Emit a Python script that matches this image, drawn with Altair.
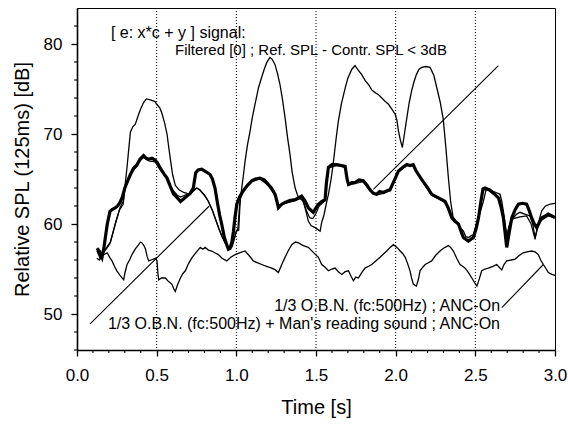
import altair as alt
import pandas as pd

FONT = "Liberation Sans"

# ---- series ----
peak_t = [0.125, 0.145, 0.17, 0.21, 0.24, 0.27, 0.29, 0.30, 0.315, 0.335, 0.35, 0.366, 0.387, 0.40, 0.418, 0.435, 0.46, 0.49, 0.50, 0.52, 0.533, 0.55, 0.565, 0.576, 0.586, 0.60, 0.617, 0.64, 0.67, 0.71, 0.75, 0.77, 0.80, 0.825, 0.85, 0.87, 0.89, 0.91, 0.93, 0.945, 0.96, 0.98, 1.0, 1.01, 1.02, 1.034, 1.045, 1.055, 1.07, 1.086, 1.10, 1.117, 1.14, 1.159, 1.175, 1.19, 1.211, 1.225, 1.243, 1.26, 1.274, 1.29, 1.306, 1.32, 1.337, 1.35, 1.369, 1.39, 1.41, 1.421, 1.44, 1.452, 1.47, 1.494, 1.51, 1.526, 1.536, 1.55, 1.565, 1.578, 1.595, 1.61, 1.625, 1.64, 1.66, 1.683, 1.70, 1.725, 1.745, 1.765, 1.787, 1.81, 1.829, 1.85, 1.871, 1.89, 1.913, 1.935, 1.955, 1.975, 1.997, 2.008, 2.018, 2.03, 2.042, 2.055, 2.07, 2.085, 2.10, 2.115, 2.13, 2.147, 2.164, 2.19, 2.216, 2.24, 2.26, 2.28, 2.299, 2.315, 2.33, 2.345, 2.36, 2.38, 2.394, 2.41, 2.425, 2.44, 2.457, 2.475, 2.488, 2.505, 2.52, 2.535, 2.55, 2.57, 2.585, 2.60, 2.63, 2.655, 2.666, 2.676, 2.687, 2.697, 2.71, 2.725, 2.739, 2.76, 2.78, 2.81, 2.843, 2.86, 2.875, 2.89, 2.906, 2.93, 2.958, 2.98, 3.0]
peak_v = [57.2, 56.3, 57.0, 58.0, 60.0, 61.8, 62.5, 64.0, 66.5, 70.2, 70.8, 71.1, 72.2, 72.8, 73.5, 73.9, 73.8, 73.6, 73.3, 72.9, 72.3, 71.2, 70.0, 68.5, 67.2, 65.5, 64.3, 63.8, 63.5, 63.3, 64.0, 63.8, 63.2, 62.5, 61.5, 60.5, 59.5, 58.6, 57.9, 57.4, 57.2, 58.0, 59.2, 59.5, 62.0, 64.0, 65.5, 67.0, 68.8, 70.3, 71.8, 73.3, 75.2, 76.3, 77.2, 77.9, 78.5, 78.3, 77.7, 76.6, 75.5, 73.8, 71.8, 69.8, 67.7, 65.8, 64.0, 62.9, 62.7, 62.5, 61.2, 60.3, 59.8, 59.6, 59.4, 59.2, 60.2, 61.0, 62.3, 63.3, 65.0, 67.0, 69.3, 71.4, 73.4, 75.1, 76.2, 77.2, 77.6, 77.1, 76.6, 75.9, 75.5, 74.9, 74.6, 74.4, 74.0, 73.6, 73.3, 72.8, 72.2, 71.5, 70.3, 69.3, 68.5, 70.0, 71.8, 73.5, 74.8, 75.8, 76.6, 77.2, 77.4, 77.5, 77.4, 76.5, 75.0, 73.5, 71.6, 68.5, 65.3, 62.5, 60.8, 60.3, 60.0, 59.5, 59.2, 58.6, 58.5, 58.7, 58.8, 59.8, 60.7, 61.6, 62.5, 64.0, 63.9, 63.7, 63.5, 63.3, 62.5, 61.4, 60.0, 58.8, 59.6, 60.5, 60.7, 61.1, 61.3, 61.1, 60.9, 60.0, 58.5, 59.5, 60.3, 60.6, 60.9, 60.8, 60.7]

thick_t = [0.125, 0.14, 0.157, 0.17, 0.19, 0.207, 0.22, 0.24, 0.255, 0.27, 0.285, 0.30, 0.318, 0.335, 0.355, 0.377, 0.395, 0.418, 0.435, 0.45, 0.47, 0.49, 0.505, 0.523, 0.545, 0.565, 0.585, 0.607, 0.63, 0.65, 0.67, 0.69, 0.71, 0.73, 0.745, 0.76, 0.783, 0.81, 0.835, 0.85, 0.866, 0.88, 0.895, 0.908, 0.925, 0.94, 0.95, 0.96, 0.972, 0.982, 0.992, 1.003, 1.02, 1.044, 1.07, 1.097, 1.12, 1.148, 1.175, 1.20, 1.22, 1.243, 1.255, 1.264, 1.285, 1.306, 1.335, 1.369, 1.39, 1.41, 1.43, 1.452, 1.47, 1.483, 1.50, 1.515, 1.535, 1.557, 1.565, 1.578, 1.60, 1.63, 1.66, 1.683, 1.695, 1.704, 1.725, 1.745, 1.77, 1.797, 1.82, 1.839, 1.86, 1.88, 1.90, 1.922, 1.945, 1.964, 1.99, 2.018, 2.045, 2.07, 2.09, 2.11, 2.125, 2.143, 2.165, 2.185, 2.205, 2.226, 2.247, 2.268, 2.29, 2.31, 2.33, 2.352, 2.372, 2.394, 2.41, 2.425, 2.44, 2.457, 2.472, 2.488, 2.505, 2.52, 2.535, 2.548, 2.561, 2.575, 2.59, 2.615, 2.645, 2.66, 2.676, 2.687, 2.697, 2.712, 2.729, 2.75, 2.77, 2.795, 2.822, 2.838, 2.853, 2.87, 2.885, 2.90, 2.917, 2.94, 2.958, 2.98, 3.0]
thick_v = [57.3, 57.0, 56.3, 57.5, 60.0, 61.4, 61.6, 61.8, 62.0, 62.4, 63.0, 64.0, 64.8, 65.5, 66.2, 66.6, 67.2, 67.6, 67.3, 67.2, 67.3, 67.1, 66.8, 66.2, 65.6, 65.1, 64.2, 63.3, 62.9, 62.5, 62.8, 63.1, 63.4, 64.0, 65.7, 66.0, 66.1, 65.8, 65.5, 65.0, 64.0, 62.5, 61.0, 60.0, 58.5, 57.7, 57.2, 57.3, 58.0, 59.2, 60.8, 62.2, 63.0, 63.7, 64.3, 64.8, 65.0, 65.1, 64.9, 64.4, 64.0, 63.3, 62.5, 61.8, 62.2, 62.4, 62.6, 62.7, 62.9, 63.1, 62.6, 61.8, 61.5, 61.3, 61.8, 62.2, 62.5, 62.7, 64.5, 66.3, 66.6, 66.6, 66.5, 66.4, 65.0, 64.4, 64.6, 64.6, 64.9, 64.8, 64.3, 63.8, 63.4, 63.3, 63.6, 63.5, 63.7, 63.8, 64.8, 65.9, 66.3, 66.6, 66.5, 66.6, 66.0, 65.5, 64.9, 64.4, 63.9, 63.3, 63.1, 62.9, 62.7, 62.5, 61.8, 60.7, 60.3, 60.0, 59.2, 58.5, 58.3, 58.1, 58.3, 58.5, 59.5, 60.7, 62.5, 63.9, 64.0, 63.9, 63.8, 63.4, 62.9, 62.0, 60.7, 59.0, 57.4, 59.0, 60.7, 61.6, 62.2, 62.3, 62.2, 61.5, 60.7, 60.0, 59.6, 60.1, 60.7, 60.9, 61.1, 60.9, 60.7]

near_t = [0.125, 0.145, 0.175, 0.207, 0.225, 0.24, 0.265, 0.29, 0.30, 0.318, 0.335, 0.355, 0.377, 0.395, 0.418, 0.45, 0.49, 0.523, 0.565, 0.60, 0.63, 0.65, 0.69, 0.72, 0.75, 0.77, 0.80, 0.825, 0.85, 0.87, 0.89, 0.91, 0.93, 0.945, 0.96, 0.975, 0.99, 1.0, 1.015, 1.025, 1.044, 1.07, 1.097, 1.148, 1.20, 1.243, 1.264, 1.306, 1.369, 1.41, 1.44, 1.46, 1.48, 1.50, 1.52, 1.557, 1.57, 1.578, 1.63, 1.683, 1.704, 1.745, 1.797, 1.839, 1.88, 1.922, 1.964, 2.018, 2.07, 2.11, 2.143, 2.185, 2.226, 2.268, 2.31, 2.352, 2.394, 2.425, 2.457, 2.488, 2.52, 2.548, 2.575, 2.615, 2.645, 2.66, 2.676, 2.69, 2.70, 2.715, 2.739, 2.78, 2.822, 2.85, 2.875, 2.89, 2.917, 2.94, 2.97, 3.0]
near_v = [57.0, 56.2, 57.0, 57.8, 59.0, 60.0, 61.5, 62.2, 63.8, 64.7, 65.4, 66.0, 66.4, 67.0, 67.4, 67.0, 66.9, 66.0, 65.0, 63.8, 63.2, 63.0, 63.3, 63.5, 64.0, 63.8, 63.2, 62.5, 61.5, 60.5, 59.5, 58.6, 57.9, 57.4, 57.2, 57.5, 58.5, 59.2, 59.3, 62.8, 63.6, 64.2, 64.7, 65.0, 64.3, 63.2, 61.9, 62.3, 62.6, 62.9, 61.5, 60.7, 60.6, 61.2, 62.0, 62.6, 65.5, 66.2, 66.5, 66.3, 64.3, 64.5, 64.7, 63.7, 63.2, 63.4, 63.7, 65.8, 66.5, 66.5, 65.4, 64.3, 63.2, 62.8, 62.4, 60.6, 59.9, 58.4, 58.0, 58.4, 60.6, 63.8, 63.8, 63.3, 63.0, 62.3, 61.0, 58.8, 58.5, 60.0, 60.6, 60.8, 60.9, 60.0, 58.3, 59.8, 61.5, 62.0, 62.2, 62.3]

low_t = [0.125, 0.14, 0.16, 0.19, 0.205, 0.22, 0.235, 0.25, 0.27, 0.293, 0.30, 0.314, 0.33, 0.345, 0.365, 0.387, 0.398, 0.408, 0.42, 0.43, 0.44, 0.45, 0.465, 0.48, 0.495, 0.502, 0.508, 0.513, 0.53, 0.554, 0.575, 0.596, 0.607, 0.617, 0.63, 0.649, 0.665, 0.68, 0.70, 0.72, 0.745, 0.774, 0.79, 0.804, 0.825, 0.845, 0.865, 0.887, 0.91, 0.94, 0.965, 0.992, 1.02, 1.055, 1.08, 1.107, 1.13, 1.159, 1.19, 1.222, 1.245, 1.264, 1.285, 1.306, 1.325, 1.348, 1.37, 1.39, 1.42, 1.452, 1.48, 1.515, 1.536, 1.557, 1.578, 1.60, 1.62, 1.64, 1.662, 1.683, 1.704, 1.72, 1.735, 1.75, 1.766, 1.787, 1.808, 1.83, 1.85, 1.875, 1.902, 1.925, 1.944, 1.965, 1.986, 2.008, 2.028, 2.045, 2.06, 2.075, 2.09, 2.10, 2.111, 2.13, 2.142, 2.153, 2.17, 2.185, 2.205, 2.226, 2.25, 2.278, 2.30, 2.331, 2.345, 2.362, 2.383, 2.404, 2.42, 2.436, 2.457, 2.478, 2.495, 2.51, 2.525, 2.54, 2.56, 2.582, 2.61, 2.634, 2.65, 2.666, 2.68, 2.697, 2.725, 2.75, 2.775, 2.80, 2.825, 2.853, 2.875, 2.895, 2.91, 2.927, 2.945, 2.958, 2.98, 3.0]
low_v = [56.2, 56.0, 56.5, 56.8, 56.3, 55.9, 55.3, 54.8, 54.3, 53.8, 54.5, 55.5, 56.0, 56.6, 57.2, 57.7, 58.0, 57.9, 57.6, 57.2, 56.4, 55.9, 56.0, 56.1, 56.2, 55.9, 54.5, 53.8, 54.0, 54.0, 53.6, 53.3, 52.8, 52.5, 53.2, 54.0, 54.5, 54.8, 55.6, 56.2, 56.8, 57.4, 57.2, 57.4, 57.1, 57.0, 56.8, 56.6, 56.2, 55.9, 56.3, 56.6, 56.8, 57.0, 56.5, 55.9, 55.7, 55.5, 55.3, 55.1, 54.9, 54.6, 55.5, 56.3, 57.0, 57.7, 58.0, 57.9, 57.6, 57.4, 56.9, 56.3, 55.5, 55.2, 54.8, 55.0, 55.1, 54.7, 54.4, 54.7, 54.8, 54.2, 53.7, 54.1, 54.0, 54.6, 55.1, 55.3, 55.5, 55.9, 56.3, 56.7, 57.0, 57.4, 57.7, 57.4, 57.0, 56.7, 56.3, 55.6, 54.8, 54.0, 53.3, 53.1, 53.8, 54.8, 55.2, 55.5, 55.7, 55.9, 56.5, 57.0, 57.3, 57.6, 57.4, 57.0, 56.2, 55.5, 55.3, 55.1, 54.6, 54.0, 53.5, 53.1, 53.9, 54.8, 55.0, 55.1, 55.3, 55.5, 55.2, 54.9, 55.5, 55.9, 56.0, 56.1, 56.5, 56.8, 56.9, 57.0, 56.9, 56.6, 56.0, 55.5, 55.0, 54.6, 54.4, 54.3]

# reference lines, ticks, labels
guide_times = [0.5, 1.0, 1.5, 2.0, 2.5]
x_major = [0.0, 0.5, 1.0, 1.5, 2.0, 2.5, 3.0]
x_minor = [0.1, 0.2, 0.3, 0.4, 0.6, 0.7, 0.8, 0.9, 1.1, 1.2, 1.3, 1.4, 1.6, 1.7, 1.8, 1.9,
           2.1, 2.2, 2.3, 2.4, 2.6, 2.7, 2.8, 2.9]
y_major = [50, 60, 70, 80]
y_minor = [46, 48, 52, 54, 56, 58, 62, 64, 66, 68, 72, 74, 76, 78, 82]

# leader lines (start / end)
leader_id = ["a", "a", "b", "b", "c", "c"]
leader_t = [0.082, 0.83, 2.645, 1.86, 2.666, 2.927]
leader_v = [48.9, 62.0, 77.6, 63.85, 50.7, 55.5]

# annotation texts
head1_text = ["[ e: x*c + y ] signal:"]
head1_t = [0.213]
head1_v = [81.2]
head2_text = ["Filtered [0] ; Ref. SPL - Contr. SPL < 3dB"]
head2_t = [0.615]
head2_v = [79.3]
foot_texts = ["1/3 O.B.N. (fc:500Hz) ; ANC-On",
              "1/3 O.B.N. (fc:500Hz) + Man's reading sound ; ANC-On"]
foot_t = [2.655, 2.655]
foot_v = [50.9, 48.9]

XDOM = [0, 3]
YDOM = [46, 84]
W, H = 478, 342

x_axis = alt.Axis(
    values=x_major, format=".1f", title="Time [s]", orient="bottom", grid=False,
    labelFlush=False, labelOverlap=False,
    tickSize=6, tickWidth=1.3, domainWidth=1.6, labelPadding=11, titlePadding=14,
)
y_axis = alt.Axis(
    values=y_major, format="d", title="Relative SPL (125ms) [dB]", orient="left", grid=False,
    labelFlush=False, labelOverlap=False,
    tickSize=6, tickWidth=1.3, domainWidth=1.6, labelPadding=9, titlePadding=11,
)

xs = dict(scale=alt.Scale(domain=XDOM, nice=False, zero=False))
ys = dict(scale=alt.Scale(domain=YDOM, nice=False, zero=False))


def series_df(t, v):
    return pd.DataFrame({"t": t, "v": v})


low = alt.Chart(series_df(low_t, low_v)).mark_line(color="black", strokeWidth=1.3).encode(
    x=alt.X("t:Q", axis=x_axis, **xs), y=alt.Y("v:Q", axis=y_axis, **ys), order="t:Q")

guides = alt.Chart(pd.DataFrame({"t": guide_times})).mark_rule(
    color="black", strokeWidth=1, strokeDash=[1, 2]
).encode(x=alt.X("t:Q", **xs))

# minor ticks drawn as short rules just outside the frame
minor_x = alt.Chart(pd.DataFrame({"t": x_minor})).mark_rule(color="black", strokeWidth=1.1).encode(
    x=alt.X("t:Q", **xs), y=alt.value(H), y2=alt.value(H + 3))
minor_y = alt.Chart(pd.DataFrame({"v": y_minor})).mark_rule(color="black", strokeWidth=1.1).encode(
    y=alt.Y("v:Q", **ys), x=alt.value(0), x2=alt.value(-3))

peak = alt.Chart(series_df(peak_t, peak_v)).mark_line(color="black", strokeWidth=1.3).encode(
    x=alt.X("t:Q", **xs), y=alt.Y("v:Q", **ys), order="t:Q")
near = alt.Chart(series_df(near_t, near_v)).mark_line(color="black", strokeWidth=1.2).encode(
    x=alt.X("t:Q", **xs), y=alt.Y("v:Q", **ys), order="t:Q")
thick = alt.Chart(series_df(thick_t, thick_v)).mark_line(color="black", strokeWidth=3.2).encode(
    x=alt.X("t:Q", **xs), y=alt.Y("v:Q", **ys), order="t:Q")

leaders = alt.Chart(pd.DataFrame({"id": leader_id, "t": leader_t, "v": leader_v})).mark_line(
    color="black", strokeWidth=1.1).encode(
    x=alt.X("t:Q", **xs), y=alt.Y("v:Q", **ys), detail="id:N")

head1 = alt.Chart(pd.DataFrame({"t": head1_t, "v": head1_v, "txt": head1_text})).mark_text(
    align="left", baseline="middle", font=FONT, fontSize=16, color="black").encode(
    x=alt.X("t:Q", **xs), y=alt.Y("v:Q", **ys), text="txt:N")
head2 = alt.Chart(pd.DataFrame({"t": head2_t, "v": head2_v, "txt": head2_text})).mark_text(
    align="left", baseline="middle", font=FONT, fontSize=15, color="black").encode(
    x=alt.X("t:Q", **xs), y=alt.Y("v:Q", **ys), text="txt:N")
foots = alt.Chart(pd.DataFrame({"t": foot_t, "v": foot_v, "txt": foot_texts})).mark_text(
    align="right", baseline="middle", font=FONT, fontSize=16, color="black").encode(
    x=alt.X("t:Q", **xs), y=alt.Y("v:Q", **ys), text="txt:N")

chart = alt.layer(low, guides, minor_x, minor_y, peak, near, thick, leaders,
                  head1, head2, foots).properties(
    width=W, height=H,
    background="white",
    autosize=alt.AutoSizeParams(type="none"),
    padding={"left": 77, "top": 8, "right": 13, "bottom": 75},
).configure_view(stroke="black", strokeWidth=1).configure_axis(
    labelFont=FONT, titleFont=FONT, labelFontSize=17, titleFontSize=20,
    labelColor="black", titleColor="black", tickColor="black", domainColor="black",
    titleFontWeight="normal"
)

chart.save("out.html", embed_options={"renderer": "svg", "actions": False})
